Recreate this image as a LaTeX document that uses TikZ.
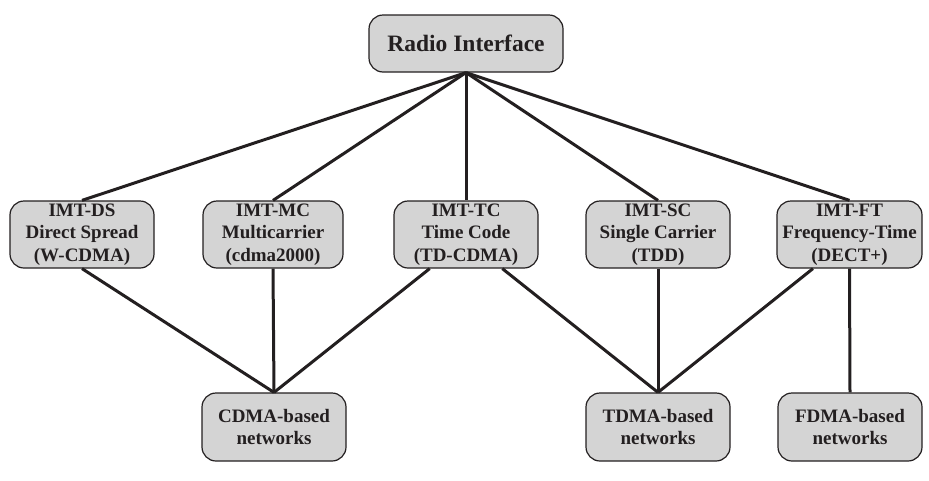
\documentclass[tikz,border=0pt]{standalone}
\usepackage{fontspec}
\setmainfont{Liberation Serif}
\usetikzlibrary{calc}
\definecolor{boxfill}{RGB}{212,212,212}
\definecolor{ink}{RGB}{35,31,32}
\begin{document}
\begin{tikzpicture}[x=1pt,y=-1pt,
  box/.style={draw=ink, line width=1.2pt, fill=boxfill, rounded corners=14pt,
    align=center, inner sep=0pt, text=ink,
    font=\fontsize{19}{22.5}\selectfont\bfseries,
    minimum width=144pt, minimum height=67pt},
  topbox/.style={box, font=\fontsize{23.5}{26}\selectfont\bfseries,
    minimum width=194pt, minimum height=57pt},
  link/.style={draw=ink, line width=3pt}]
\useasboundingbox (0,0) rectangle (929,480);

\node[topbox] (radio) at (466,43.5) {Radio Interface};

\node[box] (ds) at (82,234.5)  {IMT-DS\\Direct Spread\\(W-CDMA)};
\node[box, minimum width=140pt] (mc) at (273,234.5) {IMT-MC\\Multicarrier\\(cdma2000)};
\node[box] (tc) at (466,234.5) {IMT-TC\\Time Code\\(TD-CDMA)};
\node[box] (sc) at (658,234.5) {IMT-SC\\Single Carrier\\(TDD)};
\node[box, minimum width=145pt] (ft) at (849.5,234.5) {IMT-FT\\Frequency-Time\\(DECT+)};

\node[box, minimum height=68pt] (cdma) at (274,427) {CDMA-based\\networks};
\node[box, minimum height=68pt] (tdma) at (658,427) {TDMA-based\\networks};
\node[box, minimum height=68pt] (fdma) at (850,427) {FDMA-based\\networks};

\foreach \n in {ds,mc,tc,sc,ft}
  \draw[link] (radio.south) -- (\n.north);

\draw[link] (ds.south) -- (cdma.north);
\draw[link] (mc.south) -- (cdma.north);
\draw[link] ($(tc.south)!0.5!(tc.south west)$) -- (cdma.north);
\draw[link] ($(tc.south)!0.5!(tc.south east)$) -- (tdma.north);
\draw[link] (sc.south) -- (tdma.north);
\draw[link] ($(ft.south)!0.5!(ft.south west)$) -- (tdma.north);
\draw[link] (ft.south) -- (fdma.north);
\end{tikzpicture}
\end{document}
